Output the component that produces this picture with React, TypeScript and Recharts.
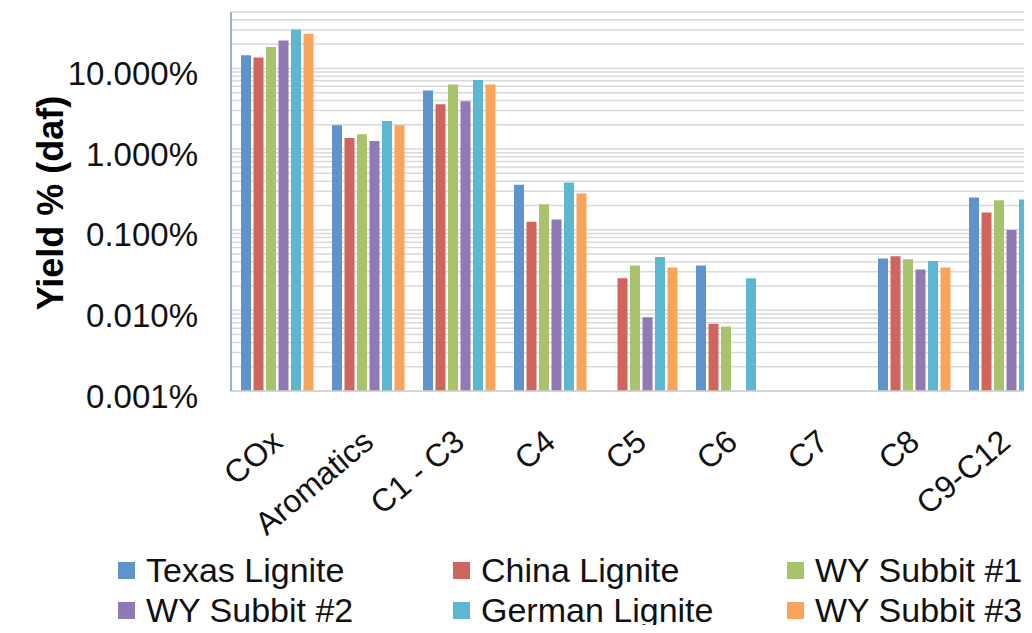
import React from 'react'
import { BarChart, Bar, XAxis, YAxis, CartesianGrid } from 'recharts'

const categories = ['COx', 'Aromatics', 'C1 - C3', 'C4', 'C5', 'C6', 'C7', 'C8', 'C9-C12']

// yields in % (daf); null = not detected
const texasLignite = [14.5, 1.97, 5.3, 0.36, null, 0.036, null, 0.044, 0.25]
const chinaLignite = [13.6, 1.37, 3.6, 0.125, 0.025, 0.0068, null, 0.047, 0.163]
const wySubbit1 = [18.4, 1.52, 6.3, 0.207, 0.036, 0.0063, null, 0.043, 0.232]
const wySubbit2 = [22.2, 1.26, 3.9, 0.134, 0.0082, null, null, 0.032, 0.099]
const germanLignite = [30.4, 2.23, 7.2, 0.384, 0.046, 0.025, null, 0.041, 0.236]
const wySubbit3 = [26.9, 1.97, 6.3, 0.281, 0.034, null, null, 0.034, 0.2]

const yTicks = [0.001, 0.01, 0.1, 1, 10]
const Y_MIN = 0.001
const Y_MAX = 50

const series = [
  { key: 'texas', name: 'Texas Lignite', color: '#5f93cb', values: texasLignite },
  { key: 'china', name: 'China Lignite', color: '#d0645e', values: chinaLignite },
  { key: 'wy1', name: 'WY Subbit #1', color: '#a9c36c', values: wySubbit1 },
  { key: 'wy2', name: 'WY Subbit #2', color: '#9179b4', values: wySubbit2 },
  { key: 'german', name: 'German Lignite', color: '#5bb8d0', values: germanLignite },
  { key: 'wy3', name: 'WY Subbit #3', color: '#f8a55b', values: wySubbit3 },
]

const data = categories.map((name, i) => {
  const row: Record<string, string | number | null> = { name }
  series.forEach((s) => {
    row[s.key] = s.values[i]
  })
  return row
})

// minor log gridlines 1..9 per decade, up to 50%
const gridValues: number[] = []
for (let d = 0.001; d < 20; d *= 10) {
  for (let m = 1; m <= 9; m++) {
    const v = +(d * m).toPrecision(3)
    if (v <= Y_MAX) gridValues.push(v)
  }
}

const FONT = '"Liberation Sans", Arial, sans-serif'

function gridCoords(props: any) {
  const scale = props?.yAxis?.scale
  if (typeof scale === 'function') return gridValues.map((v) => scale(v))
  if (scale && typeof scale.map === 'function') return gridValues.map((v) => scale.map(v))
  const { top, height } = props.offset
  const span = Math.log10(Y_MAX) - Math.log10(Y_MIN)
  return gridValues.map((v) => top + (height * (Math.log10(Y_MAX) - Math.log10(v))) / span)
}

function YTick(props: any) {
  const { x, y, payload } = props
  return (
    <text x={x} y={y + 5} textAnchor="end" dominantBaseline="central" fontSize={33} fontFamily={FONT} fill="#111">
      {payload.value.toFixed(3) + '%'}
    </text>
  )
}

function XTick(props: any) {
  const { x, payload } = props
  const ax = x + 8
  const ay = 445
  return (
    <text
      x={ax}
      y={ay}
      textAnchor="end"
      fontSize={32}
      fontFamily={FONT}
      fill="#111"
      transform={`rotate(-40 ${ax} ${ay})`}
    >
      {payload.value}
    </text>
  )
}

const colX = [118, 453, 787]

function LegendBox() {
  return (
    <div style={{ position: 'absolute', left: 0, top: 551, width: 1032, height: 80, fontFamily: FONT }}>
      {series.map((s, i) => {
        const col = i % 3
        const row = Math.floor(i / 3)
        return (
          <div
            key={s.key}
            style={{
              position: 'absolute',
              left: colX[col],
              top: row * 40,
              display: 'flex',
              alignItems: 'center',
              height: 38,
              whiteSpace: 'nowrap',
            }}
          >
            <span style={{ width: 17, height: 17, background: s.color, display: 'inline-block', marginRight: 11 }} />
            <span style={{ fontSize: 34, color: '#111' }}>{s.name}</span>
          </div>
        )
      })}
    </div>
  )
}

export default function App() {
  return (
    <div style={{ margin: -8, width: 1032, height: 633, overflow: 'hidden', background: '#fff', position: 'relative' }}>
      <BarChart
        width={1100}
        height={633}
        data={data}
        margin={{ top: 12, right: 50, left: 131, bottom: 232 }}
        barCategoryGap={10}
        barGap={2.5}
      >
        <CartesianGrid
          vertical={false}
          stroke="#d9d9d9"
          strokeWidth={1.5}
          horizontalCoordinatesGenerator={gridCoords}
        />
        <XAxis
          dataKey="name"
          height={10}
          tick={<XTick />}
          tickLine={false}
          axisLine={{ stroke: '#d0d0d0', strokeWidth: 1.5 }}
          interval={0}
        />
        <YAxis
          scale="log"
          type="number"
          domain={[Y_MIN, Y_MAX]}
          allowDataOverflow
          ticks={yTicks}
          width={100}
          tickSize={0}
          tickMargin={33}
          tickLine={false}
          tick={<YTick />}
          axisLine={{ stroke: '#8fb3de', strokeWidth: 2 }}
        />
        {series.map((s) => (
          <Bar key={s.key} dataKey={s.key} name={s.name} fill={s.color} isAnimationActive={false} />
        ))}
      </BarChart>
      <svg width={100} height={400} style={{ position: 'absolute', left: 0, top: 0 }}>
        <text
          x={50}
          y={203}
          textAnchor="middle"
          dominantBaseline="central"
          fontSize={36}
          fontWeight="bold"
          fontFamily={FONT}
          fill="#000"
          transform="rotate(-90 50 203)"
        >
          Yield % (daf)
        </text>
      </svg>
      <LegendBox />
    </div>
  )
}
